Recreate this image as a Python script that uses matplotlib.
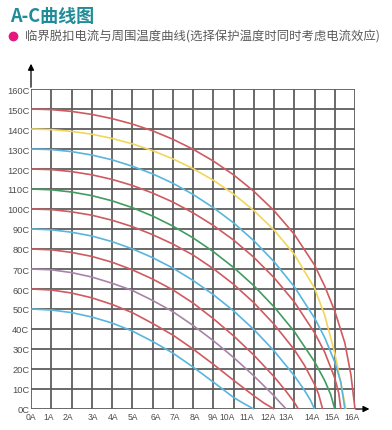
import matplotlib
matplotlib.use('Agg')
import matplotlib.pyplot as plt
from matplotlib.lines import Line2D
from matplotlib.transforms import ScaledTranslation

plt.rcParams['font.family'] = ['Noto Sans CJK SC', 'DejaVu Sans']

TITLE = 'A-C曲线图'
SUBTITLE = '临界脱扣电流与周围温度曲线(选择保护温度时同时考虑电流效应)'

X_LABELS = [f'{i}A' for i in range(17)]
Y_LABELS = [f'{t}C' for t in range(0, 170, 10)]

# curves: current (A) vs ambient temperature (C)
I_150 = [0, 1, 2, 3, 4, 5, 6, 7, 8, 9, 10, 11, 12, 13, 14, 14.5, 15, 15.5, 15.8, 16]
T_150 = [150, 149.7, 148.8, 147.3, 145.2, 142.5, 139.1, 134.9, 129.9, 124, 117.1, 108.9, 99.2, 87.4, 72, 61.5, 49, 33, 17, 0]

I_140 = [0, 1, 2, 3, 4, 5, 6, 7, 8, 9, 10, 11, 12, 13, 14, 14.5, 15, 15.3, 15.55]
T_140 = [140, 139.7, 138.8, 137.4, 135.3, 132.6, 129.2, 125.1, 120.2, 114.4, 107.5, 99.3, 89.5, 77.4, 60.5, 47, 28, 13, 0]

I_130 = [0, 1, 2, 3, 4, 5, 6, 7, 8, 9, 10, 11, 12, 13, 14, 14.5, 15, 15.3, 15.5]
T_130 = [130, 129.7, 128.7, 127, 124.6, 121.4, 117.6, 112.9, 107.3, 100.7, 93.1, 84.2, 73.7, 61.2, 45.5, 35.8, 23.5, 13.4, 0]

I_120 = [0, 1, 2, 3, 4, 5, 6, 7, 8, 9, 10, 11, 12, 13, 14, 14.5, 15, 15.2, 15.3]
T_120 = [120, 119.7, 118.7, 117.1, 114.8, 111.8, 108, 103.5, 98.1, 91.8, 84.5, 75.9, 65.7, 53.6, 38.2, 28.5, 15.5, 7.8, 0]

I_110 = [0, 1, 2, 3, 4, 5, 6, 7, 8, 9, 10, 11, 12, 13, 14, 14.5, 14.8, 15]
T_110 = [110, 109.6, 108.5, 106.7, 104.1, 100.7, 96.5, 91.5, 85.6, 78.7, 70.8, 61.7, 51.1, 38.8, 23.7, 14.3, 7.2, 0]

I_100 = [0, 1, 2, 3, 4, 5, 6, 7, 8, 9, 10, 11, 12, 13, 13.5, 14, 14.2, 14.4]
T_100 = [100, 99.7, 98.6, 96.9, 94.4, 91.2, 87.2, 82.5, 77, 70.2, 62.4, 53.2, 42.4, 29.7, 21.9, 12.4, 7.5, 0]

I_90 = [0, 1, 2, 3, 4, 5, 6, 7, 8, 9, 10, 11, 12, 13, 13.5, 13.8, 14]
T_90 = [90, 89.6, 88.4, 86.5, 83.7, 80.1, 75.7, 70.5, 64.3, 57.2, 49.1, 39.8, 29.1, 16.7, 9.4, 4.4, 0]

I_80 = [0, 1, 2, 3, 4, 5, 6, 7, 8, 9, 10, 11, 12, 12.6, 13, 13.2]
T_80 = [80, 79.6, 78.3, 76.3, 73.4, 69.6, 65, 59.6, 53, 45.2, 36.6, 27, 16.2, 8.8, 3.4, 0]

I_70 = [0, 1, 2, 3, 4, 5, 6, 7, 8, 9, 10, 11, 12, 12.3, 12.6]
T_70 = [70, 69.6, 68.2, 66, 62.9, 59.3, 54.3, 48.7, 41.8, 34.2, 25.8, 16.6, 6.6, 3.2, 0]

I_60 = [0, 1, 2, 3, 4, 5, 6, 7, 8, 9, 10, 11, 11.5, 12]
T_60 = [60, 59.5, 58, 55.6, 52.3, 48.2, 42.8, 37, 30, 22.4, 14.4, 6.6, 3, 0]

I_50 = [0, 1, 2, 3, 4, 5, 6, 7, 8, 9, 10, 10.5, 11]
T_50 = [50, 49.5, 48.2, 46, 43, 39, 33.8, 28, 21, 13.5, 5.8, 2.8, 0]

RED = '#cf5a5f'
YELLOW = '#f2d65c'
BLUE = '#58b5dd'
GREEN = '#3f9d5e'
PURPLE = '#a883a9'

curves = [
    (I_150, T_150, RED), (I_140, T_140, YELLOW), (I_130, T_130, BLUE),
    (I_120, T_120, RED), (I_110, T_110, GREEN), (I_100, T_100, RED),
    (I_90, T_90, BLUE), (I_80, T_80, RED), (I_70, T_70, PURPLE),
    (I_60, T_60, RED), (I_50, T_50, BLUE),
]

# small horizontal nudges (px) of the x tick labels, as in the original
x_shift = [0, -3, -4, 1, 1, 1, 3, 2, 2, 0, -6, -7, -6, -8, -2, -3, -3]

W, H = 392, 431
fig = plt.figure(figsize=(W / 100, H / 100), dpi=100)
ax = fig.add_axes([31 / W, 21 / H, 324 / W, 320 / H])
ax.set_xlim(0, 16)
ax.set_ylim(0, 160)
for s in ax.spines.values():
    s.set_visible(False)

grid_c = '#5e5e5e'
for x in range(17):
    ax.axvline(x, color=grid_c, lw=1.3, zorder=1)
for y in range(0, 170, 10):
    ax.axhline(y, color=grid_c, lw=1.3, zorder=1)

for xs, ys, c in curves:
    ax.plot(xs, ys, color=c, lw=1.2, zorder=3, clip_on=False, solid_capstyle='butt')

# axis arrows
ax.annotate('', xy=(0, 174), xytext=(0, 159.5),
            arrowprops=dict(arrowstyle='-|>', color='black', lw=0.9, mutation_scale=9),
            annotation_clip=False)
ax.annotate('', xy=(16.85, 0), xytext=(15.9, 0),
            arrowprops=dict(arrowstyle='-|>', color='black', lw=0.9, mutation_scale=9),
            annotation_clip=False)

ax.set_xticks(range(17))
ax.set_xticklabels(X_LABELS)
ax.set_yticks(range(0, 170, 10))
ax.set_yticklabels(Y_LABELS)
ax.tick_params(length=0, labelcolor='#4d4d4d')
ax.tick_params(axis='x', pad=2.5, labelsize=6.2)
ax.tick_params(axis='y', pad=1.2, labelsize=6.7)
for lbl in ax.get_xticklabels() + ax.get_yticklabels():
    lbl.set_family(['Liberation Sans', 'DejaVu Sans'])
for lbl, dx in zip(ax.get_xticklabels(), x_shift):
    lbl.set_transform(lbl.get_transform() + ScaledTranslation(dx / 100, 0, fig.dpi_scale_trans))

fig.text(10 / W, 1 - 16 / H, TITLE, fontsize=13, fontweight='bold', color='#1f8c98', va='center')
fig.add_artist(Line2D([13 / W], [1 - 37 / H], marker='o', markersize=6, color='#e3197f',
                      transform=fig.transFigure))
fig.text(25 / W, 1 - 37 / H, SUBTITLE, fontsize=8.9, color='#5a5a5a', va='center')

fig.savefig('out.png', dpi=100)
